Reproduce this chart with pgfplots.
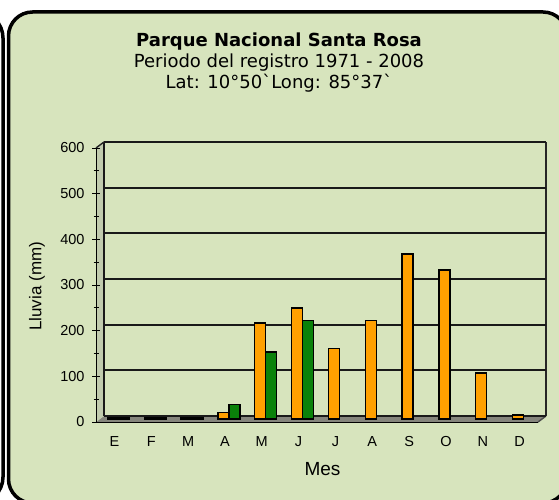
\documentclass[border=0pt]{standalone}
\usepackage{pgfplots}
\pgfplotsset{compat=1.18}
\usepackage{fontspec}
\setmainfont{Liberation Sans}
\newfontfamily\titlefont{DejaVu Sans}
\definecolor{panel}{HTML}{D7E4BD}
\definecolor{barorange}{HTML}{FFA000}
\definecolor{bargreen}{HTML}{0A820A}
\definecolor{floorgray}{HTML}{85857C}
\begin{document}
\begin{tikzpicture}
\useasboundingbox (0pt,0pt) rectangle (559pt,500pt);
\begin{scope}
\clip (0pt,0pt) rectangle (559pt,500pt);
\draw[line width=3.5pt, rounded corners=26pt] (-120pt,-3pt) rectangle (3pt,488pt);
\draw[line width=3.5pt, fill=panel, rounded corners=24pt] (8.5pt,-3pt) rectangle (567pt,488pt);
\end{scope}
% title
\node[anchor=base, inner sep=0] at (279pt,453pt) {\titlefont\fontsize{18}{20}\selectfont\bfseries Parque Nacional Santa Rosa};
\node[anchor=base, inner sep=0] at (279pt,432pt) {\titlefont\fontsize{18}{20}\selectfont Periodo del registro 1971 - 2008};
\node[anchor=base, inner sep=0] at (279pt,411pt) {\titlefont\fontsize{18}{20}\selectfont Lat: 10°50`Long: 85°37`};
% 3D floor and walls
\fill[floorgray] (96pt,78pt) -- (538pt,78pt) -- (546pt,84pt) -- (104pt,84pt) -- cycle;
\fill[panel!75!gray] (96pt,78pt) -- (104pt,84pt) -- (104pt,358pt) -- (96pt,352pt) -- cycle;
\draw[line width=1.6pt, black!90] (104pt,84pt) -- (104pt,358pt);
\draw[line width=1.8pt, black!85] (546pt,84pt) -- (546pt,358pt);
\draw[line width=1.4pt, black!85] (96pt,352pt) -- (104pt,358pt);
\draw[line width=1.4pt, black!70] (538pt,78pt) -- (546pt,84pt);
\begin{axis}[
  at={(96pt,78pt)}, anchor=south west,
  scale only axis, width=442pt, height=274pt,
  xmin=-0.5, xmax=11.5, ymin=0, ymax=600,
  axis x line=bottom, axis y line=left,
  axis line style={-, black, line width=0.8pt},
  xtick={0,...,11},
  xticklabels={E,F,M,A,M,J,J,A,S,O,N,D},
  major x tick style={draw=none},
  extra x ticks={-0.5,0.5,...,11.5},
  extra x tick labels={},
  extra x tick style={major tick length=4pt, tick align=outside, major tick style={black, line width=0.8pt}},
  ytick={0,100,...,600},
  minor y tick num=1,
  tick align=center,
  major tick length=8pt, minor tick length=5pt,
  tick style={black, line width=0.8pt},
  ymajorgrids,
  major grid style={line width=1.9pt, black!90, xshift=8pt, yshift=6pt},
  /pgf/number format/assume math mode=true,
  ticklabel style={font=\fontsize{14.5}{16}\selectfont},
  yticklabel style={anchor=east, xshift=-4pt},
  xticklabel style={anchor=north, inner sep=0pt, yshift=-10pt},
  xlabel={Mes},
  ylabel={Lluvia (mm)},
  xlabel style={font=\fontsize{19}{21}\selectfont, at={(axis description cs:0.5124,-0.196)}, anchor=base},
  ylabel style={font=\fontsize{17}{19}\selectfont, at={(axis description cs:-0.1335,0.495)}, anchor=center},
  clip=false,
]
\addplot[ybar, bar width=11pt, bar shift=-5.5pt, fill=barorange, draw=black, line width=1.3pt, xshift=4pt, yshift=3pt]
  coordinates {(0,4) (1,2) (2,2) (3,14) (4,210) (5,243) (6,155) (7,215) (8,361) (9,326) (10,101) (11,9)};
\addplot[ybar, bar width=11pt, bar shift=5.5pt, fill=bargreen, draw=black, line width=1.3pt, xshift=4pt, yshift=3pt]
  coordinates {(0,4) (1,2) (2,2) (3,31) (4,147) (5,215)};
\end{axis}
\end{tikzpicture}
\end{document}
